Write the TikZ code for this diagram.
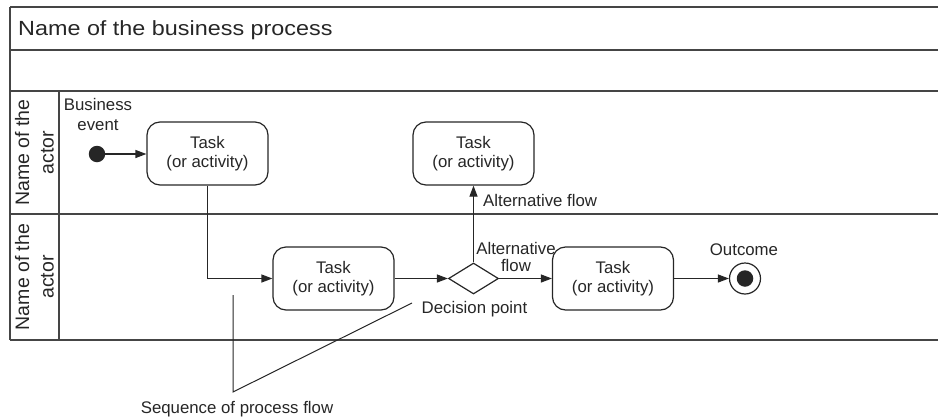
\documentclass[tikz,border=0pt]{standalone}
\usepackage{fontspec}
\setmainfont{Liberation Sans}
\newfontfamily\titlefont[FakeStretch=1.14]{Liberation Sans}
\usetikzlibrary{shapes.geometric,arrows.meta}
\definecolor{ink}{HTML}{262626}
\definecolor{rule}{HTML}{454545}

\begin{document}
\begin{tikzpicture}[x=1pt,y=-1pt,
  lane/.style={draw=rule,line width=1.5pt},
  flow/.style={draw=ink,line width=1.2pt,-{Triangle[length=11pt,width=8pt]}},
  pointer/.style={draw=ink,line width=1pt},
  task/.style={draw=ink,line width=1.2pt,rounded corners=13pt,minimum width=121pt,
    minimum height=63pt,inner sep=0pt,align=center,
    font=\fontsize{16.8}{19}\selectfont,text=ink},
  lbl/.style={inner sep=0pt,font=\fontsize{16.8}{20}\selectfont,text=ink,align=center},
  actor/.style={inner sep=0pt,rotate=90,align=center,
    font=\fontsize{19.5}{24.5}\selectfont,text=ink},
  dot/.style={circle,fill=ink,inner sep=0pt},
  ]
\useasboundingbox (0,0) rectangle (938,418);

% swimlane frame
\draw[lane] (10,7) -- (938,7);
\draw[lane] (10,50) -- (938,50);
\draw[lane] (10,91) -- (938,91);
\draw[lane] (10,214) -- (938,214);
\draw[lane] (10,340) -- (938,340);
\draw[lane] (10,7) -- (10,340);
\draw[lane] (59,91) -- (59,340);

% process title and actor lanes
\node[anchor=base west,inner sep=0pt,text=ink,
  font=\titlefont\fontsize{20.5}{24}\selectfont] (title) at (18,35.7)
  {Name of the business process};
\node[actor] (actor1) at (34.5,152.5) {Name of the\\actor};
\node[actor] (actor2) at (34.5,277) {Name of the\\actor};

% activities
\node[task] (t1) at (207.5,153.5) {Task\\(or activity)};
\node[task] (t2) at (473.5,153.5) {Task\\(or activity)};
\node[task] (t3) at (333.5,278.5) {Task\\(or activity)};
\node[task] (t4) at (613,278.5) {Task\\(or activity)};
\node[diamond,draw=ink,line width=1.2pt,minimum width=50pt,minimum height=31pt,
  inner sep=0pt,aspect=1.6] (dec) at (473.5,278.5) {};

% start and end events
\node[dot,minimum size=16.5pt] (start) at (97,154) {};
\node[circle,draw=ink,line width=1.2pt,minimum size=31pt,inner sep=0pt] (end) at (745,278.5) {};
\node[dot,minimum size=16.5pt] (endcore) at (745,278.5) {};

% flows
\draw[flow] (start) -- (start -| t1.west);
\draw[flow] (t1.south) |- (t3.west);
\draw[flow] (t3) -- (dec);
\draw[flow] (dec) -- (t4);
\draw[flow] (t4) -- (end);
\draw[flow] (dec.north) -- (t2.south);

% labels
\node[lbl] (bev) at (98,114) {Business\\event};
\node[lbl,anchor=base west] (altup) at (483,206) {Alternative flow};
\node[lbl,font=\fontsize{16.8}{17}\selectfont] (altright) at (516,257.3) {Alternative\\flow};
\node[lbl,anchor=base] (declbl) at (474.5,313) {Decision point};
\node[lbl,anchor=base] (outcome) at (744,255) {Outcome};

% callout for the sequence flow
\coordinate (sq1) at (233,295);
\coordinate (sq2) at (233,392);
\coordinate (sq3) at (412,303);
\draw[pointer] (sq1) -- (sq2) -- (sq3);
\node[lbl,anchor=base] (seq) at (237,413) {Sequence of process flow};
\end{tikzpicture}
\end{document}
